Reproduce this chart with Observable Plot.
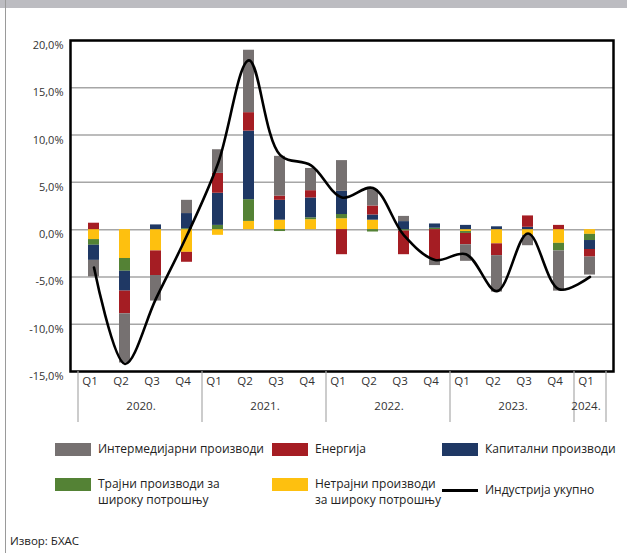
<!DOCTYPE html>
<html><head><meta charset="utf-8">
<script src="https://cdn.jsdelivr.net/npm/d3@7"></script>
<script src="https://cdn.jsdelivr.net/npm/@observablehq/plot@0.6"></script>
<style>
body{margin:0;background:#fff;font-family:"Open Sans",sans-serif;}
#wrap{position:relative;width:627px;height:553px;overflow:hidden;background:#fff}
#topbar{position:absolute;left:0;top:0;width:627px;height:8px;background:#bcbcc1}
#leftline{position:absolute;left:5px;top:0;width:1px;height:553px;background:#9a9a9a}
#chart{position:absolute;left:0;top:0}
.lg{position:absolute;font-size:12px;color:#222;line-height:16px;white-space:nowrap}
.sw{position:absolute;width:36px;height:13px}
.ln{position:absolute;width:36px;height:3px;background:#000}
#src{position:absolute;left:10px;top:533px;font-size:11.5px;color:#222}
</style></head>
<body>
<div id="wrap">
  <div id="chart"></div>
  <div id="topbar"></div>
  <div id="leftline"></div>
  <div id="legend"></div>
  <div id="src">Извор: БХАС</div>
</div>
<script>
// ---- data ----
const quarterLabels = ["Q1","Q2","Q3","Q4","Q1","Q2","Q3","Q4","Q1","Q2","Q3","Q4","Q1","Q2","Q3","Q4","Q1"];
const quarterYears  = ["2020.","2020.","2020.","2020.","2021.","2021.","2021.","2021.","2022.","2022.","2022.","2022.","2023.","2023.","2023.","2023.","2024."];
const seriesNames = ["Нетрајни производи за широку потрошњу","Трајни производи за широку потрошњу","Капитални производи","Енергија","Интермедијарни производи"];
const seriesColors = ["#fec00f","#548235","#1f3864","#a51d23","#767171"];
const nondurable   = [-1.05,-3.05,-2.25,-2.4, -0.6,0.87,1.0,1.05, 1.15,1.0,0,0, -0.2,-1.5,-0.6,-1.45, -0.5];
const durable      = [-0.6,-1.35,0,0.1, 0.45,2.3,-0.2,0.2, 0.45,-0.25,-0.15,0.15, -0.2,0,0,-0.8, -0.65];
const capital      = [-1.6,-2.1,0.5,1.6, 3.4,7.25,2.1,2.1, 2.45,0.55,0.85,0.45, 0.45,0.3,0.25,0, -0.95];
const energy       = [0.68,-2.4,-2.6,-1.05, 2.1,1.95,0.45,0.77, -2.65,0.95,-2.5,-3.2, -1.2,-1.25,1.2,0.45, -0.8];
const intermediate = [-1.75,-5.2,-2.7,1.4, 2.5,6.6,4.2,2.35, 3.25,1.75,0.55,-0.6, -1.75,-3.85,-1.1,-4.25, -1.9];
const industryTotal = [-4.0,-14.2,-7.3,-0.6, 7.0,17.9,7.9,6.8, 3.4,4.4,-0.6,-3.2, -2.6,-6.5,-0.4,-6.3, -5.0];
const yTicks = [-15,-10,-5,0,5,10,15,20];
const lineLabel = "Индустрија укупно";

// ---- build tables ----
const keys = quarterYears.map((y,i) => y + quarterLabels[i]);
const seriesValues = [nondurable, durable, capital, energy, intermediate];
const rows = [];
keys.forEach((k,i) => seriesValues.forEach((arr,s) => rows.push({key:k, series:seriesNames[s], value:arr[i]})));
const lineRows = keys.map((k,i) => ({key:k, value:industryTotal[i]}));
const qRows = keys.map((k,i) => ({key:k, label:quarterLabels[i]}));
const yearList = [...new Set(quarterYears)];
const yearGroups = yearList.map(y => {
  const idx = keys.map((k,i)=>i).filter(i => quarterYears[i]===y);
  return {label:y, first:keys[idx[0]], mid:keys[idx[Math.floor((idx.length-1)/2)]], even: idx.length%2===0};
});
const evenYears = yearGroups.filter(d => d.even);
const oddYears = yearGroups.filter(d => !d.even);
const halfStep = 16;

const chart = Plot.plot({
  width: 627, height: 430,
  marginLeft: 70, marginRight: 14, marginTop: 40, marginBottom: 59,
  style: {fontFamily: '"Open Sans", sans-serif', background: "transparent"},
  x: {type: "band", domain: keys, padding: 0, axis: null},
  y: {domain: [-15, 20], axis: null},
  color: {domain: seriesNames, range: seriesColors},
  marks: [
    Plot.ruleY(yTicks, {stroke: "#a6a6a6", strokeWidth: 1.5}),
    Plot.barY(rows, {x: "key", y: "value", fill: "series", order: seriesNames, insetLeft: 10, insetRight: 10}),
    Plot.line(lineRows, {x: "key", y: "value", curve: "catmull-rom", stroke: "#000", strokeWidth: 2.6}),
    Plot.frame({stroke: "#000", strokeWidth: 2.5}),
    Plot.axisY({ticks: yTicks, tickSize: 0, tickPadding: 7, dy: 5, fontSize: 11, color: "#333", label: null,
      tickFormat: d => d.toFixed(1).replace(".", ",") + "%"}),
    Plot.ruleX(yearGroups, {x: "first", dx: -halfStep, y1: -15, y2: -20.4, stroke: "#aaaaaa", strokeWidth: 1.2}),
    Plot.ruleX([keys[keys.length-1]], {x: d => d, dx: halfStep, y1: -15, y2: -20.4, stroke: "#aaaaaa", strokeWidth: 1.2}),
    Plot.text(qRows, {x: "key", text: "label", frameAnchor: "bottom", dy: 13, dx: -4, fontSize: 11.5, fill: "#333"}),
    Plot.text(evenYears, {x: "mid", text: "label", dx: halfStep, frameAnchor: "bottom", dy: 38, fontSize: 11.5, fill: "#333"}),
    Plot.text(oddYears, {x: "mid", text: "label", dx: -4, frameAnchor: "bottom", dy: 38, fontSize: 11.5, fill: "#333"})
  ]
});
document.getElementById("chart").appendChild(chart);

// ---- legend ----
const legend = document.getElementById("legend");
const legendItems = [
  {color: seriesColors[4], x: 55, y: 443, lines: ["Интермедијарни производи"]},
  {color: seriesColors[3], x: 272, y: 443, lines: ["Енергија"]},
  {color: seriesColors[2], x: 442, y: 443, lines: ["Капитални производи"]},
  {color: seriesColors[1], x: 55, y: 478, lines: ["Трајни производи за","широку потрошњу"]},
  {color: seriesColors[0], x: 272, y: 478, lines: ["Нетрајни производи","за широку потрошњу"]},
];
legendItems.forEach(it => {
  const sw = document.createElement("div");
  sw.className = "sw"; sw.style.left = it.x + "px"; sw.style.top = it.y + "px"; sw.style.background = it.color;
  legend.appendChild(sw);
  const t = document.createElement("div");
  t.className = "lg"; t.style.left = (it.x + 43) + "px"; t.style.top = (it.y - 2) + "px";
  t.innerHTML = it.lines.join("<br>");
  legend.appendChild(t);
});
const ln = document.createElement("div");
ln.className = "ln"; ln.style.left = "442px"; ln.style.top = "489px";
legend.appendChild(ln);
const lt = document.createElement("div");
lt.className = "lg"; lt.style.left = "485px"; lt.style.top = "482px"; lt.textContent = lineLabel;
legend.appendChild(lt);
</script>
</body></html>
